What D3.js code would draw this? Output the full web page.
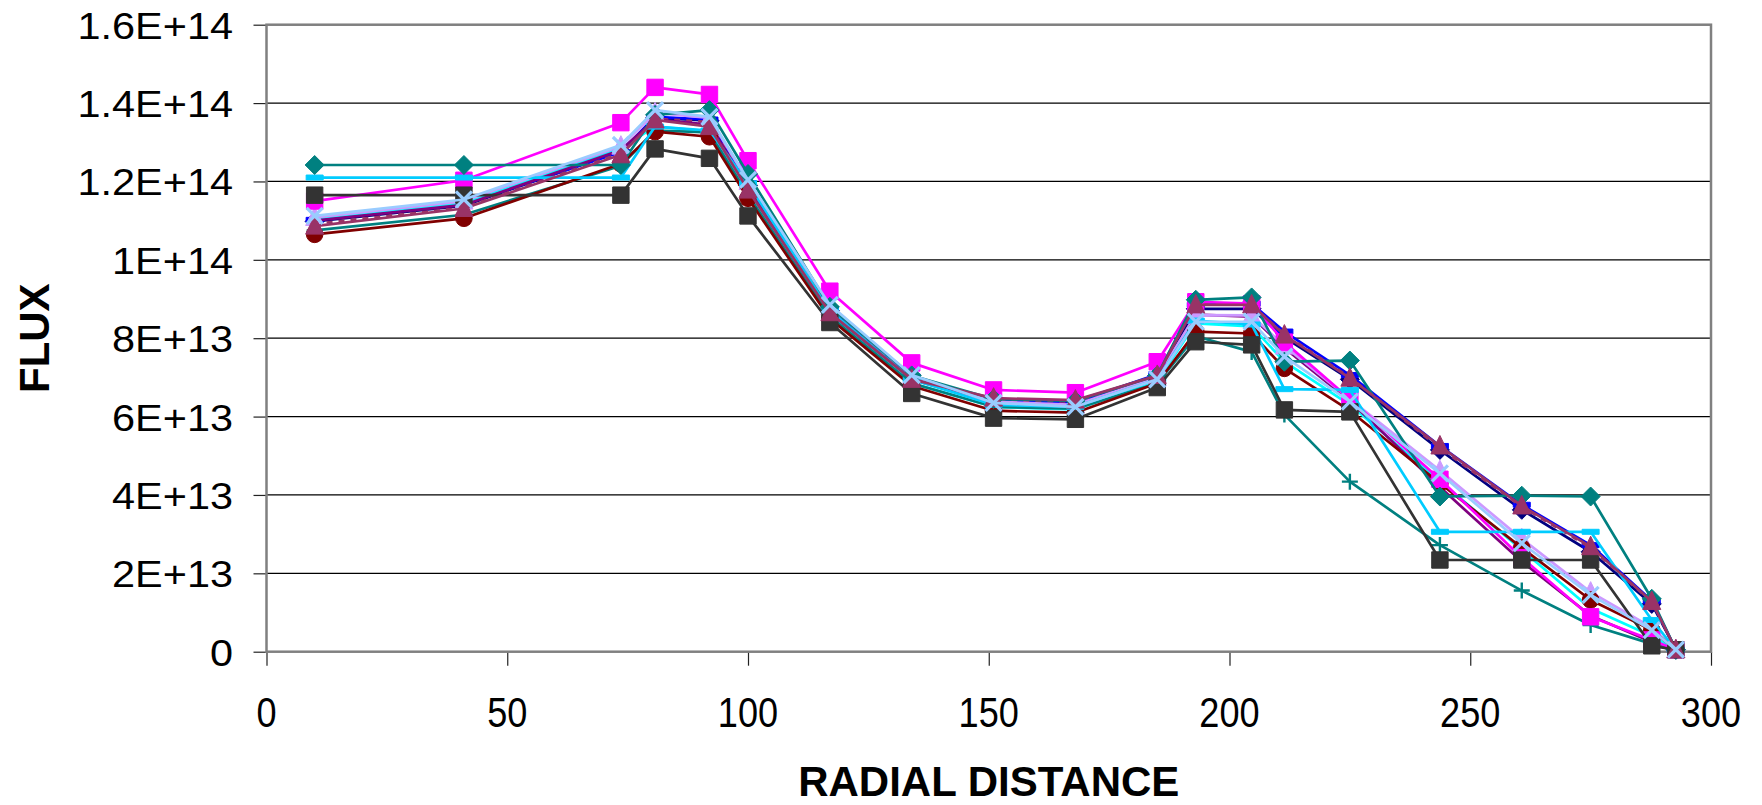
<!DOCTYPE html>
<html>
<head>
<meta charset="utf-8">
<script src="https://cdn.jsdelivr.net/npm/d3@7"></script>
<style>
  html, body { margin: 0; padding: 0; background: #fff; }
  svg { display: block; font-family: "Liberation Sans", Arial, sans-serif; }
</style>
</head>
<body>
<svg id="chart" width="1762" height="805"></svg>
<script>
// radial positions of the mesh points
const radial = [10, 41, 73.6, 80.7, 92, 100, 117, 134, 151, 168, 185, 193, 204.6, 211.4, 225, 243.7, 260.7, 275, 287.7, 292.7];

// flux values, in units of 1E+13
const fluxNavy     = [10.98, 11.38, 12.78, 13.62, 13.55, 11.90, 8.70, 7.00, 6.40, 6.33, 7.05, 8.75, 8.75, 8.02, 6.95, 5.15, 3.62, 2.55, 1.22, 0.05];
const fluxBlue     = [11.02, 11.42, 12.75, 13.65, 13.58, 11.95, 8.75, 7.02, 6.42, 6.36, 7.08, 8.85, 8.88, 8.17, 7.06, 5.25, 3.75, 2.72, 1.30, 0.05];
const fluxPlumDash = [10.92, 11.33, 12.72, 13.60, 13.52, 11.85, 8.70, 6.98, 6.42, 6.38, 7.05, 8.90, 8.85, 8.10, 7.00, 5.20, 3.70, 2.65, 1.27, 0.05];
const fluxCyan     = [11.05, 11.45, 12.85, 13.40, 13.28, 11.70, 8.60, 6.85, 6.25, 6.18, 6.90, 8.38, 8.30, 7.40, 6.30, 4.35, 2.60, 1.10, 0.40, 0.05];
const fluxPurple   = [11.00, 11.40, 12.80, 13.58, 13.45, 11.85, 8.65, 6.95, 6.35, 6.28, 6.98, 8.60, 8.55, 7.75, 6.40, 4.20, 2.30, 0.92, 0.25, 0.03];
const fluxLavender = [11.08, 11.50, 12.90, 13.75, 13.62, 12.00, 8.80, 7.05, 6.38, 6.30, 7.00, 8.59, 8.58, 7.80, 6.45, 4.62, 2.88, 1.52, 0.62, 0.05];
const fluxTealPlus = [10.75, 11.15, 12.40, 13.30, 13.25, 11.65, 8.55, 6.85, 6.25, 6.20, 6.85, 8.05, 7.65, 6.05, 4.34, 2.72, 1.56, 0.68, 0.20, 0.02];
const fluxMaroon   = [10.65, 11.06, 12.45, 13.27, 13.14, 11.57, 8.50, 6.78, 6.15, 6.10, 6.85, 8.17, 8.12, 7.23, 6.15, 4.30, 2.65, 1.32, 0.55, 0.05];
const fluxMagenta  = [11.50, 12.03, 13.50, 14.40, 14.22, 12.53, 9.20, 7.37, 6.68, 6.61, 7.40, 8.93, 8.88, 7.90, 6.45, 4.40, 2.40, 0.89, 0.30, 0.05];
const fluxSky      = [12.10, 12.10, 12.10, 13.40, 13.30, 11.95, 8.70, 6.95, 6.30, 6.25, 6.95, 8.45, 8.35, 6.70, 6.68, 3.06, 3.06, 3.06, 0.81, 0.05];
const fluxTealDia  = [12.42, 12.42, 12.42, 13.70, 13.82, 12.19, 8.80, 7.05, 6.45, 6.40, 7.05, 8.98, 9.04, 7.40, 7.43, 3.96, 3.98, 3.96, 1.35, 0.05];
const fluxGray     = [11.65, 11.65, 11.65, 12.83, 12.59, 11.12, 8.40, 6.59, 5.96, 5.93, 6.74, 7.91, 7.83, 6.17, 6.12, 2.34, 2.34, 2.34, 0.15, 0.05];
const fluxPlumTri  = [10.86, 11.31, 12.68, 13.57, 13.40, 11.78, 8.65, 6.95, 6.47, 6.42, 7.05, 8.85, 8.85, 8.08, 6.98, 5.25, 3.72, 2.68, 1.28, 0.05];
const fluxLightX   = [11.12, 11.54, 12.93, 13.82, 13.65, 12.04, 8.85, 7.06, 6.35, 6.25, 6.95, 8.42, 8.42, 7.53, 6.38, 4.55, 2.77, 1.45, 0.55, 0.05];

const xTicks = [0, 50, 100, 150, 200, 250, 300];
const yTicks = [0, 2e13, 4e13, 6e13, 8e13, 1e14, 1.2e14, 1.4e14, 1.6e14];
const yTickLabels = ["0", "2E+13", "4E+13", "6E+13", "8E+13", "1E+14", "1.2E+14", "1.4E+14", "1.6E+14"];

// drawing order = series order
const series = [
  {values: fluxNavy, color: "#000080", marker: "diamond"},
  {values: fluxBlue, color: "#0000FF", marker: "dash"},
  {values: fluxPlumDash, color: "#993366", marker: "none", dashed: true},
  {values: fluxCyan, color: "#00FFFF", marker: "none"},
  {values: fluxPurple, color: "#800080", marker: "none"},
  {values: fluxLavender, color: "#CC99FF", marker: "triangle"},
  {values: fluxTealPlus, color: "#008080", marker: "plus"},
  {values: fluxMaroon, color: "#800000", marker: "circle"},
  {values: fluxMagenta, color: "#FF00FF", marker: "square"},
  {values: fluxSky, color: "#00CCFF", marker: "dash"},
  {values: fluxTealDia, color: "#008080", marker: "diamond"},
  {values: fluxGray, color: "#333333", marker: "square"},
  {values: fluxPlumTri, color: "#993366", marker: "triangle"},
  {values: fluxLightX, color: "#99CCFF", marker: "x"}
];

const margin = {left: 266.5, right: 1711, top: 24.7, bottom: 651.7};

const svg = d3.select("#chart");

const xScale = d3.scaleLinear()
    .domain([0, 300])
    .range([margin.left, margin.right]);
const yScale = d3.scaleLinear()
    .domain([0, 1.6e14])
    .range([margin.bottom, margin.top]);

// horizontal gridlines
svg.append("g")
    .selectAll("line")
    .data(yTicks.slice(1))
    .join("line")
    .attr("x1", margin.left)
    .attr("x2", margin.right)
    .attr("y1", d => yScale(d))
    .attr("y2", d => yScale(d))
    .attr("stroke", "#000")
    .attr("stroke-width", 1.2);

// axes (ticks only), labels drawn separately
const yAxis = svg.append("g")
    .attr("transform", "translate(" + margin.left + ",0)")
    .call(d3.axisLeft(yScale).tickValues(yTicks).tickSize(13).tickPadding(0).tickFormat(""));
yAxis.select(".domain").remove();
yAxis.selectAll(".tick line").attr("stroke", "#222").attr("stroke-width", 1.2);

const xAxis = svg.append("g")
    .attr("transform", "translate(0," + margin.bottom + ")")
    .call(d3.axisBottom(xScale).tickValues(xTicks).tickSize(14).tickFormat(""));
xAxis.select(".domain").remove();
xAxis.selectAll(".tick line").attr("stroke", "#222").attr("stroke-width", 1.2);

svg.append("g")
    .selectAll("text")
    .data(yTicks)
    .join("text")
    .attr("transform", d => "translate(233," + (yScale(d) + 14) + ") scale(1.12,1)")
    .attr("text-anchor", "end")
    .attr("font-size", 37)
    .attr("fill", "#000")
    .text((d, i) => yTickLabels[i]);

svg.append("g")
    .selectAll("text")
    .data(xTicks)
    .join("text")
    .attr("transform", d => "translate(" + xScale(d) + ",727) scale(0.86,1)")
    .attr("text-anchor", "middle")
    .attr("font-size", 42)
    .attr("fill", "#000")
    .text(d => d);

// plot area frame
svg.append("rect")
    .attr("x", margin.left)
    .attr("y", margin.top)
    .attr("width", margin.right - margin.left)
    .attr("height", margin.bottom - margin.top)
    .attr("fill", "none")
    .attr("stroke", "#808080")
    .attr("stroke-width", 2.5);

// axis titles
svg.append("text")
    .attr("x", (margin.left + margin.right) / 2)
    .attr("y", 796)
    .attr("text-anchor", "middle")
    .attr("font-size", 42)
    .attr("font-weight", "bold")
    .text("RADIAL DISTANCE");

svg.append("text")
    .attr("transform", "translate(49," + (margin.top + margin.bottom) / 2 + ") rotate(-90)")
    .attr("text-anchor", "middle")
    .attr("font-size", 42)
    .attr("font-weight", "bold")
    .text("FLUX");

// markers
function markerPath(type) {
  switch (type) {
    case "square": return "M-8.2,-8.2H8.2V8.2H-8.2Z";
    case "diamond": return "M0,-9.5L9.5,0L0,9.5L-9.5,0Z";
    case "triangle": return "M0,-10.5L9,8L-9,8Z";
    case "circle": return "M8.3,0A8.3,8.3 0 1,1 -8.3,0A8.3,8.3 0 1,1 8.3,0Z";
    case "dash": return "M-8.5,-2.5H8.5V2.5H-8.5Z";
    case "x": return "M-8,-8L8,8M8,-8L-8,8";
    case "plus": return "M-8,0H8M0,-8V8";
  }
  return null;
}

const line = d3.line()
    .x((d, i) => xScale(radial[i]))
    .y(d => yScale(d * 1e13));

const plot = svg.append("g");

series.forEach(function (s) {
  const g = plot.append("g");
  g.append("path")
      .attr("d", line(s.values))
      .attr("fill", "none")
      .attr("stroke", s.color)
      .attr("stroke-width", 2.7)
      .attr("stroke-linejoin", "round")
      .attr("stroke-dasharray", s.dashed ? "6,6" : null);

  if (s.marker === "none") return;
  const open = s.marker === "x" || s.marker === "plus";
  g.selectAll("path.mk")
      .data(s.values)
      .join("path")
      .attr("class", "mk")
      .attr("transform", (d, i) => "translate(" + xScale(radial[i]) + "," + yScale(d * 1e13) + ")")
      .attr("d", markerPath(s.marker))
      .attr("fill", open ? "none" : s.color)
      .attr("stroke", s.color)
      .attr("stroke-width", open ? (s.marker === "x" ? 3.2 : 2.4) : 1);
});
</script>
</body>
</html>
